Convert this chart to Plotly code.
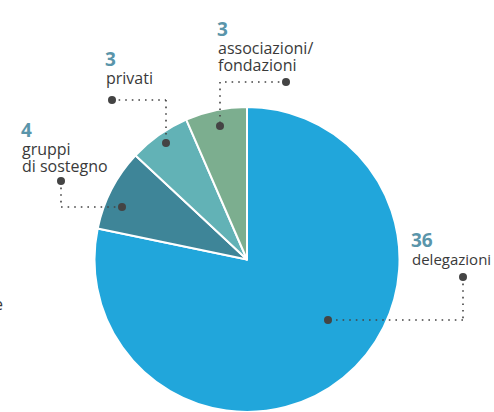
import plotly.graph_objects as go

categories = ["delegazioni", "gruppi<br>di sostegno", "privati", "associazioni/<br>fondazioni"]
values = [36, 4, 3, 3]
colors = ["#21A6DB", "#3E8598", "#62B2B6", "#7CAE8F"]

W, H = 494, 412
NUM_COLOR = "#5A95AA"
TXT_COLOR = "#3A3A3A"
LINE_COLOR = "#444444"
FONT = "Open Sans"
NUM_SIZE = 19
TXT_SIZES = [15, 16, 16, 16]

fig = go.Figure()

box_top, box_bot = 107, 412
cx = 247
r = (box_bot - box_top) / 2
fig.add_trace(go.Pie(
    labels=[c.replace("<br>", " ") for c in categories],
    values=values,
    sort=False,
    direction="clockwise",
    rotation=0,
    marker=dict(colors=colors, line=dict(color="white", width=2)),
    textinfo="none",
    hoverinfo="label+value",
    showlegend=False,
    domain=dict(x=[(cx - r) / W, (cx + r) / W], y=[(H - box_bot) / H, (H - box_top) / H]),
))

fig.update_layout(
    xaxis=dict(range=[0, W], visible=False, fixedrange=True),
    yaxis=dict(range=[H, 0], visible=False, fixedrange=True),
)

# (left x, number baseline, [text line baselines])
label_pos = [(410, 247, [265]), (20, 137, [155, 172]), (104, 66.5, [84]), (216, 36, [54, 71])]
leaders = [
    [(463, 277), (463, 320), (328, 320)],
    [(61, 181), (61, 207), (122, 207)],
    [(112, 100), (166, 100), (166, 143)],
    [(286, 82), (220, 82), (220, 126)],
]

def mid(baseline, size):
    return baseline - 0.388 * size

shapes = []
annotations = []
for cat, v, (lx, nb, tbs), path, ts in zip(categories, values, label_pos, leaders, TXT_SIZES):
    annotations.append(dict(
        x=lx - 1, y=mid(nb, NUM_SIZE), xref="x", yref="y", xanchor="left", yanchor="middle",
        text=f"<b>{v}</b>", showarrow=False,
        font=dict(family=FONT, size=NUM_SIZE, color=NUM_COLOR),
    ))
    for line, tb in zip(cat.split("<br>"), tbs):
        annotations.append(dict(
            x=lx, y=mid(tb, ts), xref="x", yref="y", xanchor="left", yanchor="middle",
            text=line, showarrow=False, align="left",
            font=dict(family=FONT, size=ts, color=TXT_COLOR),
        ))
    for (x0, y0), (x1, y1) in zip(path[:-1], path[1:]):
        shapes.append(dict(type="line", xref="x", yref="y", x0=x0, y0=y0, x1=x1, y1=y1,
                           line=dict(color=LINE_COLOR, width=1.6, dash="1.6px,5px"), layer="above"))
    for (x, y) in (path[0], path[-1]):
        shapes.append(dict(type="circle", xref="x", yref="y", x0=x - 4, x1=x + 4, y0=y - 4, y1=y + 4,
                           fillcolor=LINE_COLOR, line=dict(width=0), layer="above"))

# fragment of a neighbouring label cut by the left edge
annotations.append(dict(
    x=5, y=mid(310, 16), xref="x", yref="y", xanchor="right", yanchor="middle",
    text="e", showarrow=False, font=dict(family=FONT, size=16, color=TXT_COLOR),
))

fig.update_layout(
    width=W, height=H,
    margin=dict(l=0, r=0, t=0, b=0),
    paper_bgcolor="white", plot_bgcolor="rgba(0,0,0,0)",
    shapes=shapes, annotations=annotations,
)

fig.write_html("out.html")
